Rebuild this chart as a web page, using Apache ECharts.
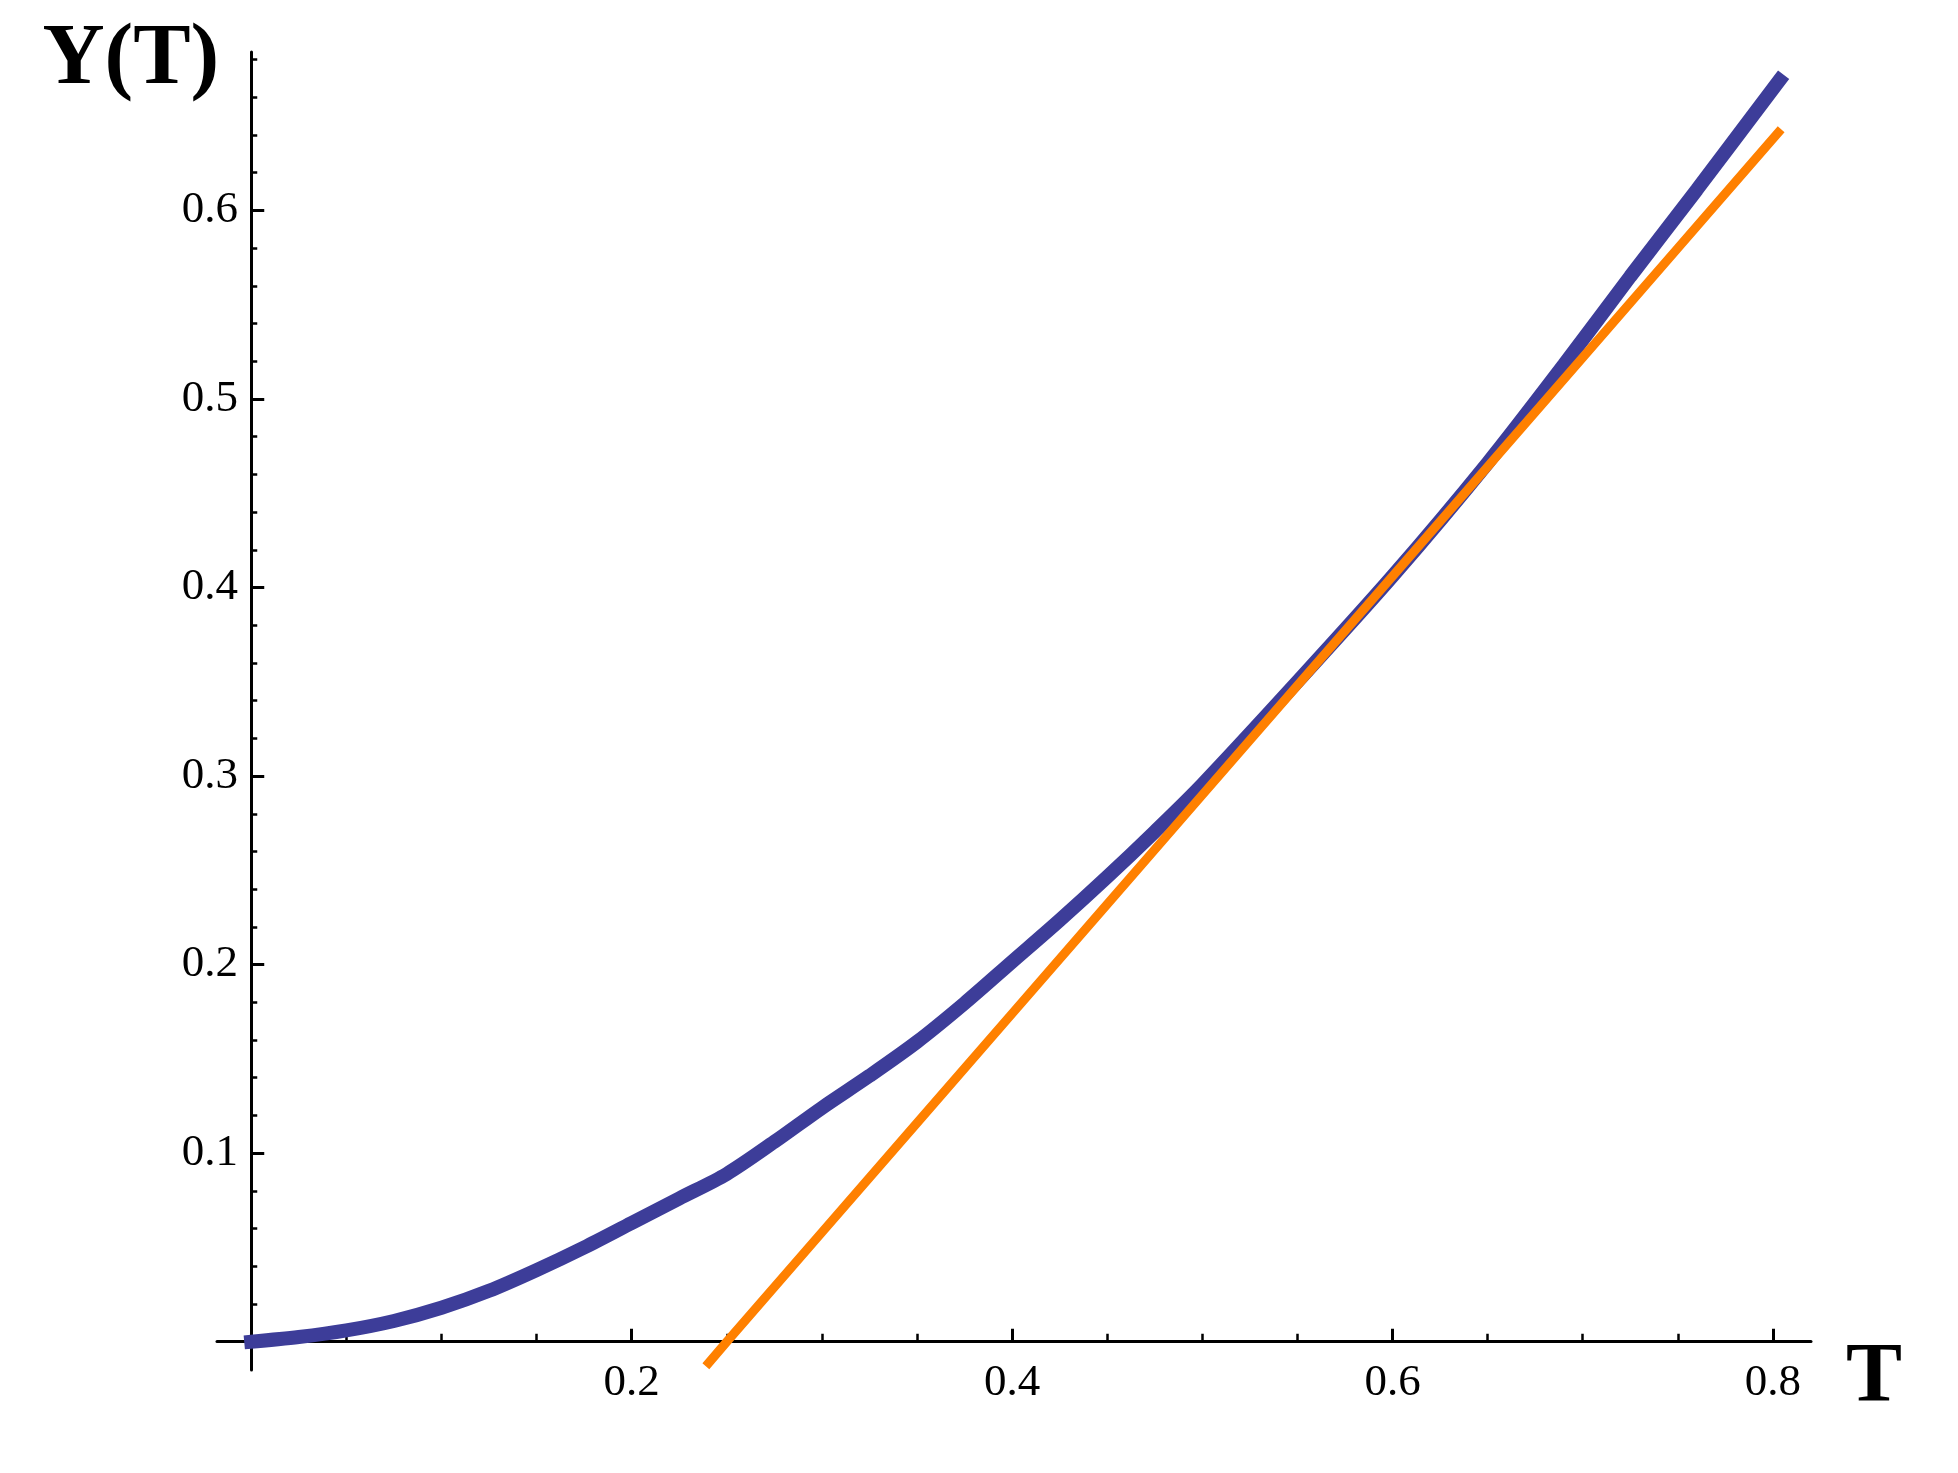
<!DOCTYPE html>
<html>
<head>
<meta charset="utf-8">
<script src="https://cdn.jsdelivr.net/npm/echarts@6/dist/echarts.min.js"></script>
<style>
  html, body { margin: 0; padding: 0; background: #fff; }
  #chart { width: 1958px; height: 1473px; }
</style>
</head>
<body>
<div id="chart"></div>
<script>
// values
const blueT = [0, 0.025, 0.05, 0.075, 0.1, 0.125, 0.15, 0.175, 0.2, 0.225, 0.25, 0.275, 0.3, 0.325, 0.35, 0.375, 0.4, 0.425, 0.45, 0.475, 0.5, 0.55, 0.6, 0.65, 0.69, 0.725, 0.76, 0.8034];
const blueY = [0, 0.0025, 0.006, 0.011, 0.018, 0.027, 0.038, 0.05, 0.063, 0.076, 0.089, 0.106, 0.124, 0.141, 0.159, 0.1795, 0.2015, 0.2235, 0.2465, 0.2705, 0.2955, 0.35, 0.406, 0.466, 0.518, 0.565, 0.611, 0.669];

const orangeT = [0.239, 0.25, 0.3, 0.35, 0.4, 0.45, 0.5, 0.55, 0.6, 0.65, 0.7, 0.75, 0.8043];
const orangeY = [-0.013, 0, 0.058, 0.116, 0.174, 0.232, 0.29, 0.348, 0.406, 0.464, 0.522, 0.58, 0.643];

// tick labels and tick positions
const xLabels = [0.2, 0.4, 0.6, 0.8];
const xMinor = [0.05, 0.1, 0.15, 0.25, 0.3, 0.35, 0.45, 0.5, 0.55, 0.65, 0.7, 0.75];
const yLabels = [0.1, 0.2, 0.3, 0.4, 0.5, 0.6];
const yMinor = [0.02, 0.04, 0.06, 0.08, 0.12, 0.14, 0.16, 0.18, 0.22, 0.24, 0.26, 0.28,
  0.32, 0.34, 0.36, 0.38, 0.42, 0.44, 0.46, 0.48, 0.52, 0.54, 0.56, 0.58, 0.62, 0.64, 0.66, 0.68];

const zip = (a, b) => a.map((v, i) => [v, b[i]]);

const serif = "'Liberation Serif', 'Times New Roman', serif";
const xMin = -0.018, xMax = 0.82;
const yMin = -0.015, yMax = 0.684;

const chart = echarts.init(document.getElementById("chart"));
const option = {
  animation: false,
  backgroundColor: "#fff",
  grid: {
    left: 217,
    right: 147,
    top: 52,
    bottom: 103,
    containLabel: false,
    outerBoundsMode: "none",
  },
  xAxis: [
    {
      type: "value",
      position: "bottom",
      min: xMin,
      max: xMax,
      name: "T",
      nameLocation: "end",
      nameGap: 35,
      nameTextStyle: {
        fontFamily: serif,
        fontWeight: "bold",
        fontSize: 84,
        color: "#000",
        align: "left",
        verticalAlign: "top",
        lineHeight: 76,
      },
      axisLine: {
        onZero: true,
        onZeroAxisIndex: 0,
        lineStyle: { color: "#000", width: 3 },
      },
      axisTick: {
        inside: true,
        length: 13,
        customValues: xLabels,
        lineStyle: { color: "#000", width: 3 },
      },
      axisLabel: {
        customValues: xLabels,
        formatter: (v) => v.toFixed(1),
        fontFamily: serif,
        fontSize: 45,
        lineHeight: 44,
        color: "#000",
        margin: -9,
      },
      splitLine: { show: false },
    },
    {
      type: "value",
      position: "bottom",
      min: xMin,
      max: xMax,
      axisLine: { show: false, onZero: true, onZeroAxisIndex: 0 },
      axisTick: {
        inside: true,
        length: 8,
        customValues: xMinor,
        lineStyle: { color: "#000", width: 2.5 },
      },
      axisLabel: { show: false },
      splitLine: { show: false },
    },
  ],
  yAxis: [
    {
      type: "value",
      position: "left",
      min: yMin,
      max: yMax,
      name: "Y(T)",
      nameLocation: "end",
      nameGap: -9,
      nameTextStyle: {
        fontFamily: serif,
        fontWeight: "bold",
        fontSize: 86,
        color: "#000",
        align: "right",
        verticalAlign: "middle",
        padding: [0, 32, 0, 0],
      },
      axisLine: {
        onZero: true,
        onZeroAxisIndex: 0,
        lineStyle: { color: "#000", width: 3 },
      },
      axisTick: {
        inside: true,
        length: 13,
        customValues: yLabels,
        lineStyle: { color: "#000", width: 3 },
      },
      axisLabel: {
        customValues: yLabels,
        formatter: (v) => v.toFixed(1),
        fontFamily: serif,
        fontSize: 45,
        lineHeight: 44,
        color: "#000",
        margin: -21,
        verticalAlign: "middle",
        padding: [0, 0, 8, 0],
      },
      splitLine: { show: false },
    },
    {
      type: "value",
      position: "left",
      min: yMin,
      max: yMax,
      axisLine: { show: false, onZero: true, onZeroAxisIndex: 0 },
      axisTick: {
        inside: true,
        length: 6,
        customValues: yMinor,
        lineStyle: { color: "#000", width: 2.5 },
      },
      axisLabel: { show: false },
      splitLine: { show: false },
    },
  ],
  series: [
    {
      name: "Y(T)",
      type: "line",
      data: zip(blueT, blueY),
      showSymbol: false,
      smooth: 0.3,
      clip: false,
      lineStyle: { color: "#3d3d99", width: 14, cap: "square" },
    },
    {
      name: "asymptote",
      type: "line",
      data: zip(orangeT, orangeY),
      showSymbol: false,
      clip: false,
      lineStyle: { color: "#ff8000", width: 9, cap: "butt" },
    },
  ],
};
chart.setOption(option);
</script>
</body>
</html>
